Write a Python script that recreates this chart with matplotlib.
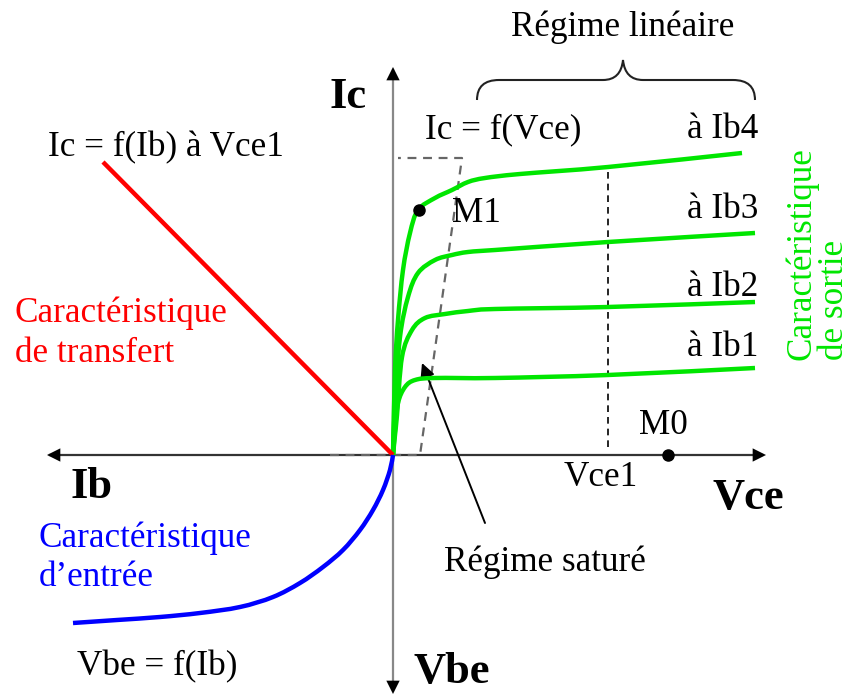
import matplotlib
matplotlib.use("Agg")
import matplotlib.pyplot as plt
from matplotlib.path import Path
from matplotlib.patches import PathPatch
import numpy as np

plt.rcParams['font.family'] = ['Liberation Serif', 'DejaVu Serif']

# ---- data (units: Vce to the right, Ic up, Ib to the left, Vbe down) ----
ib4_vce = [0, 2, 5, 10, 17, 25, 42, 59, 75, 92, 127, 215, 349]
ib4_ic = [0, 85, 135, 185, 222, 245, 257, 265, 273, 277, 281, 288, 302]

ib3_vce = [0, 2, 7, 15, 25, 42, 59, 75, 102, 215, 362]
ib3_ic = [0, 52, 118, 158, 182, 195, 200, 203, 205, 213, 222]

ib2_vce = [0, 2, 4, 9, 19, 32, 52, 75, 102, 215, 362]
ib2_ic = [0, 20, 40, 98, 125, 137, 141, 144, 146, 148, 153]

ib1_vce = [0, 2, 5, 12, 22, 42, 102, 215, 362]
ib1_ic = [0, 25, 52, 68, 75, 77, 77, 80, 87]

transfer_ib = [0, 290]
transfer_ic = [0, 293]

input_ib = [0, 3, 10, 20, 33, 50, 70, 93, 120, 153, 193, 233, 276, 320]
input_vbe = [0, 15, 35, 55, 75, 95, 112, 128, 142, 152, 158, 162, 165, 168]

sat_vce = [-63, 27, 69, 5]
sat_ic = [0, 0, 297, 297]

vce1 = 215
m0 = (275, 0)
m1 = (26, 245)

# ---- figure: 1 data unit = 1 pixel, origin at the axes crossing ----
OX, OY = 393, 455
W, H = 853, 695
fig = plt.figure(figsize=(W / 100, H / 100), dpi=100)
ax = fig.add_axes([0, 0, 1, 1])
ax.set_xlim(-OX, W - OX)
ax.set_ylim(OY - H, OY)
ax.axis('off')


def P(px, py):
    return px - OX, OY - py


def smooth_curve(xs, ys, color, lw, z):
    """Draw a smooth Bezier path passing through the given points."""
    p = np.column_stack([xs, ys]).astype(float)
    n = len(p)
    verts = [tuple(p[0])]
    codes = [Path.MOVETO]
    for i in range(n - 1):
        pm = p[i - 1] if i > 0 else p[i]
        p2 = p[i + 2] if i + 2 < n else p[i + 1]
        c1 = p[i] + (p[i + 1] - pm) / 6.0
        c2 = p[i + 1] - (p2 - p[i]) / 6.0
        verts += [tuple(c1), tuple(c2), tuple(p[i + 1])]
        codes += [Path.CURVE4] * 3
    ax.add_patch(PathPatch(Path(verts, codes), fill=False, edgecolor=color,
                           lw=lw, capstyle='butt', joinstyle='round', zorder=z))


# axes
ax.plot([-343, 369], [0, 0], color='#333333', lw=1.6, zorder=2)
ax.plot([0, 0], [-235, 385], color='#888888', lw=1.6, zorder=2)
for (x0, y0, x1, y1) in [(-320, 0, -346, 0), (350, 0, 373, 0),
                         (0, 360, 0, 388), (0, -215, 0, -239)]:
    ax.annotate('', xy=(x1, y1), xytext=(x0, y0),
                arrowprops=dict(arrowstyle='-|>', color='black', lw=0,
                                mutation_scale=24, shrinkA=0, shrinkB=0))

# saturation boundary (dashed grey)
ax.plot(sat_vce, sat_ic, color='#666666', lw=1.6, ls=(0, (4, 3)), zorder=3)
# Vce1 vertical dashed
ax.plot([vce1, vce1], [8, 288], color='black', lw=1.2, ls=(0, (4, 3)), zorder=3)

# output characteristics
g = '#00e600'
for xs, ys in [(ib1_vce, ib1_ic), (ib2_vce, ib2_ic), (ib3_vce, ib3_ic), (ib4_vce, ib4_ic)]:
    smooth_curve(xs, ys, g, 3.2, 4)

# transfer characteristic
ax.plot([-v for v in transfer_ib], transfer_ic, color='#ff0000', lw=3.2,
        solid_capstyle='butt', zorder=4)
# input characteristic
smooth_curve([-v for v in input_ib], [-v for v in input_vbe], '#0000ff', 3.2, 5)

# points
ax.plot(*m0, 'o', color='black', ms=8, zorder=6)
ax.plot(*m1, 'o', color='black', ms=8, zorder=6)

# arrow to saturation region
ax.annotate('', xy=(29, 92), xytext=(92, -68),
            arrowprops=dict(arrowstyle='-|>', color='black', lw=1.4,
                            mutation_scale=22, shrinkA=0, shrinkB=0))

# brace
verts = [(84, 355), (84, 375), (106, 375), (210, 375), (228, 375), (230, 395),
         (232, 375), (250, 375), (340, 375), (362, 375), (362, 355)]
codes = [Path.MOVETO, Path.CURVE3, Path.CURVE3, Path.LINETO, Path.CURVE3, Path.CURVE3,
         Path.CURVE3, Path.CURVE3, Path.LINETO, Path.CURVE3, Path.CURVE3]
ax.add_patch(PathPatch(Path(verts, codes), fill=False, color='#222222', lw=1.5))

FS = 25.3
BF = 32


def T(px, py, s, **kw):
    kw.setdefault('fontsize', FS)
    kw.setdefault('va', 'center')
    ax.text(*P(px, py), s, **kw)


T(623, 27, 'Régime linéaire', ha='center')
T(348, 97, 'Ic', ha='center', fontsize=BF, fontweight='bold')
T(48, 148, 'Ic = f(Ib) à Vce1', ha='left')
T(425, 130, 'Ic = f(Vce)', ha='left')
T(758, 130, 'à Ib4', ha='right')
T(758, 210, 'à Ib3', ha='right')
T(758, 287, 'à Ib2', ha='right')
T(758, 347, 'à Ib1', ha='right')
T(452, 213, 'M1', ha='left')
T(663, 425, 'M0', ha='center')
T(601, 477, 'Vce1', ha='center')
T(748, 498, 'Vce', ha='center', fontsize=BF, fontweight='bold')
T(91, 487, 'Ib', ha='center', fontsize=BF, fontweight='bold')
T(452, 672, 'Vbe', ha='center', fontsize=BF, fontweight='bold')
T(545, 562, 'Régime saturé', ha='center')
T(77, 667, 'Vbe = f(Ib)', ha='left')
T(15, 313, 'Caractéristique', ha='left', color='#ff0000')
T(15, 353, 'de transfert', ha='left', color='#ff0000')
T(39, 538, 'Caractéristique', ha='left', color='#0000ff')
T(39, 577, 'd’entrée', ha='left', color='#0000ff')
ax.text(*P(802, 360), 'Caractéristique', rotation=90, ha='center', va='bottom',
        fontsize=FS, color=g)
ax.text(*P(835, 360), 'de sortie', rotation=90, ha='center', va='bottom',
        fontsize=FS, color=g)

fig.savefig('out.png', dpi=100)
